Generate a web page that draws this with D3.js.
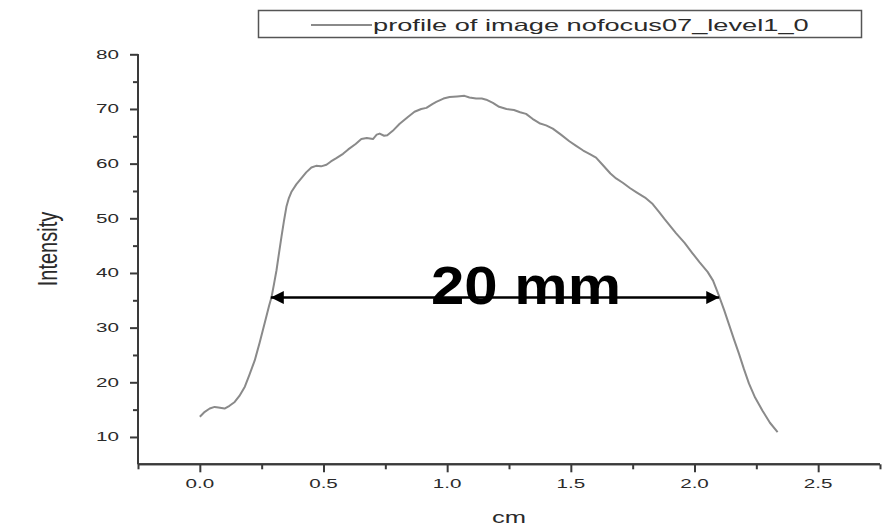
<!DOCTYPE html>
<html>
<head>
<meta charset="utf-8">
<script src="https://cdn.jsdelivr.net/npm/d3@7"></script>
<style>
  html, body { margin: 0; padding: 0; background: #fff; }
  svg { display: block; }
  text { font-family: "Liberation Sans", Arial, sans-serif; }
</style>
</head>
<body>
<svg id="chart" width="890" height="531"></svg>
<script>
// Intensity profile across the beam (position in cm)
const positionCm = [
  0.000, 0.020, 0.040, 0.060, 0.075, 0.100, 0.120, 0.141, 0.160, 0.182,
  0.200, 0.222, 0.242, 0.262, 0.280, 0.290, 0.300, 0.310, 0.320, 0.330,
  0.340, 0.350, 0.360, 0.370, 0.390, 0.410, 0.430, 0.451, 0.470, 0.490,
  0.512, 0.530, 0.552, 0.579, 0.600, 0.630, 0.653, 0.675, 0.700, 0.715,
  0.727, 0.745, 0.758, 0.780, 0.808, 0.840, 0.868, 0.895, 0.916, 0.940,
  0.956, 0.985, 1.010, 1.040, 1.070, 1.090, 1.117, 1.140, 1.158, 1.185,
  1.210, 1.240, 1.270, 1.295, 1.319, 1.345, 1.373, 1.400, 1.427, 1.460,
  1.494, 1.520, 1.550, 1.575, 1.602, 1.630, 1.660, 1.683, 1.710, 1.740,
  1.764, 1.800, 1.831, 1.858, 1.880, 1.898, 1.925, 1.960, 1.992, 2.020,
  2.053, 2.075, 2.100, 2.120, 2.140, 2.160, 2.180, 2.200, 2.220, 2.245,
  2.275, 2.305, 2.336
];
const intensity = [
  13.7, 14.6, 15.2, 15.5, 15.4, 15.2, 15.7, 16.4, 17.5, 19.2,
  21.3, 24.0, 27.3, 30.8, 34.0, 35.6, 38.0, 40.5, 43.6, 46.6,
  49.5, 52.1, 53.7, 54.8, 56.2, 57.3, 58.4, 59.3, 59.6, 59.5,
  59.8, 60.4, 61.0, 61.8, 62.6, 63.6, 64.5, 64.7, 64.5, 65.3,
  65.5, 65.1, 65.2, 66.0, 67.3, 68.5, 69.5, 70.0, 70.2, 70.9,
  71.3, 71.9, 72.2, 72.3, 72.4, 72.1, 71.9, 71.9, 71.7, 71.1,
  70.4, 70.0, 69.8, 69.4, 69.1, 68.2, 67.4, 67.0, 66.4, 65.3,
  64.1, 63.3, 62.4, 61.8, 61.1, 59.7, 58.2, 57.3, 56.5, 55.5,
  54.8, 53.8, 52.6, 51.1, 49.8, 48.8, 47.3, 45.5, 43.6, 42.0,
  40.2, 38.6, 35.7, 33.2, 30.5, 27.8, 25.2, 22.4, 19.8, 17.2,
  14.8, 12.6, 10.9
];

// Axis ticks
const xMajorTicks = [0.0, 0.5, 1.0, 1.5, 2.0, 2.5];
const xMinorTicks = [-0.25, 0.25, 0.75, 1.25, 1.75, 2.25, 2.75];
const yMajorTicks = [10, 20, 30, 40, 50, 60, 70, 80];
const yMinorTicks = [15, 25, 35, 45, 55, 65, 75];

// Width annotation (start/end in cm, height in intensity)
const spanStart = [0.287];
const spanEnd = [2.100];
const spanLevel = [35.5];
const spanLabel = ["20 mm"];

const seriesName = "profile of image nofocus07_level1_0";
const xTitle = "cm";
const yTitle = "Intensity";

const svg = d3.select("#chart");

const x = d3.scaleLinear().domain([-0.25, 2.75]).range([138, 880]);
const y = d3.scaleLinear().domain([5, 80]).range([464.3, 54.3]);

const axisColor = "#3a3a3a";
const textColor = "#2a2a2a";
const stretch = 1.65;   // labels are drawn wide

// Text widened horizontally around its anchor point
function wideText(g, tx, ty, str, size, anchor, sx, rotate) {
  return g.append("g")
    .attr("transform", `translate(${tx},${ty}) scale(${sx},1)` + (rotate ? ` rotate(${rotate})` : ""))
    .append("text")
    .attr("text-anchor", anchor)
    .attr("font-size", size)
    .attr("fill", textColor)
    .text(str);
}

// Axes
const xAxisG = svg.append("g").attr("transform", `translate(0,${y(5)})`);
xAxisG.call(d3.axisBottom(x).tickValues(xMajorTicks).tickSize(8).tickFormat(""));
xAxisG.append("g").call(d3.axisBottom(x).tickValues(xMinorTicks).tickSize(5).tickFormat(""));
xAxisG.selectAll("path.domain").attr("stroke", axisColor).attr("stroke-width", 2).attr("d", `M${x(-0.25)},0H${x(2.75)}`);
xAxisG.selectAll(".tick line").attr("stroke", axisColor).attr("stroke-width", 2);

const yAxisG = svg.append("g").attr("transform", `translate(${x(-0.25)},0)`);
yAxisG.call(d3.axisLeft(y).tickValues(yMajorTicks).tickSize(8).tickFormat(""));
yAxisG.append("g").call(d3.axisLeft(y).tickValues(yMinorTicks).tickSize(5).tickFormat(""));
yAxisG.selectAll("path.domain").attr("stroke", axisColor).attr("stroke-width", 2).attr("d", `M0,${y(80)}V${y(5)}`);
yAxisG.selectAll(".tick line").attr("stroke", axisColor).attr("stroke-width", 2);

// Tick labels
const labelG = svg.append("g");
xMajorTicks.forEach(v => wideText(labelG, x(v), 488, d3.format(".1f")(v), 12.5, "middle", stretch));
yMajorTicks.forEach(v => wideText(labelG, x(-0.25) - 19, y(v) + 4.5, String(v), 12.5, "end", stretch));

// Axis titles
wideText(labelG, (x(-0.25) + x(2.75)) / 2, 523, xTitle, 17, "middle", 1.5);
wideText(labelG, 57, 249, yTitle, 20, "middle", 1.4, -90);

// Profile curve
const data = positionCm.map((p, i) => ({ p, v: intensity[i] }));
svg.append("path")
  .datum(data)
  .attr("fill", "none")
  .attr("stroke", "#8a8a8a")
  .attr("stroke-width", 2)
  .attr("stroke-linejoin", "round")
  .attr("d", d3.line().x(d => x(d.p)).y(d => y(d.v)));

// Legend
const legend = svg.append("g");
legend.append("rect")
  .attr("x", 258.5).attr("y", 10.5).attr("width", 603).attr("height", 27)
  .attr("fill", "#fff").attr("stroke", "#555").attr("stroke-width", 1.5);
legend.append("line")
  .attr("x1", 311).attr("x2", 372).attr("y1", 25).attr("y2", 25)
  .attr("stroke", "#8a8a8a").attr("stroke-width", 2);
wideText(legend, 373, 31, seriesName, 16.5, "start", 1.65);

// Width annotation
const defs = svg.append("defs");
defs.append("marker").attr("id", "head").attr("viewBox", "0 0 10 10")
  .attr("refX", 10).attr("refY", 5).attr("markerWidth", 15).attr("markerHeight", 13)
  .attr("markerUnits", "userSpaceOnUse").attr("orient", "auto-start-reverse")
  .append("path").attr("d", "M0,0L10,5L0,10Z").attr("fill", "#000");

const ann = svg.append("g");
spanStart.forEach((s, i) => {
  ann.append("line")
    .attr("x1", x(s)).attr("x2", x(spanEnd[i]))
    .attr("y1", y(spanLevel[i])).attr("y2", y(spanLevel[i]))
    .attr("stroke", "#000").attr("stroke-width", 2.5)
    .attr("marker-start", "url(#head)").attr("marker-end", "url(#head)");
  ann.append("text")
    .attr("x", 431).attr("y", 304)
    .attr("font-family", "'Comic Sans MS', 'DejaVu Sans', sans-serif")
    .attr("font-weight", "bold").attr("font-size", 53)
    .attr("textLength", 190).attr("lengthAdjust", "spacingAndGlyphs")
    .attr("fill", "#000")
    .text(spanLabel[i]);
});
</script>
</body>
</html>
